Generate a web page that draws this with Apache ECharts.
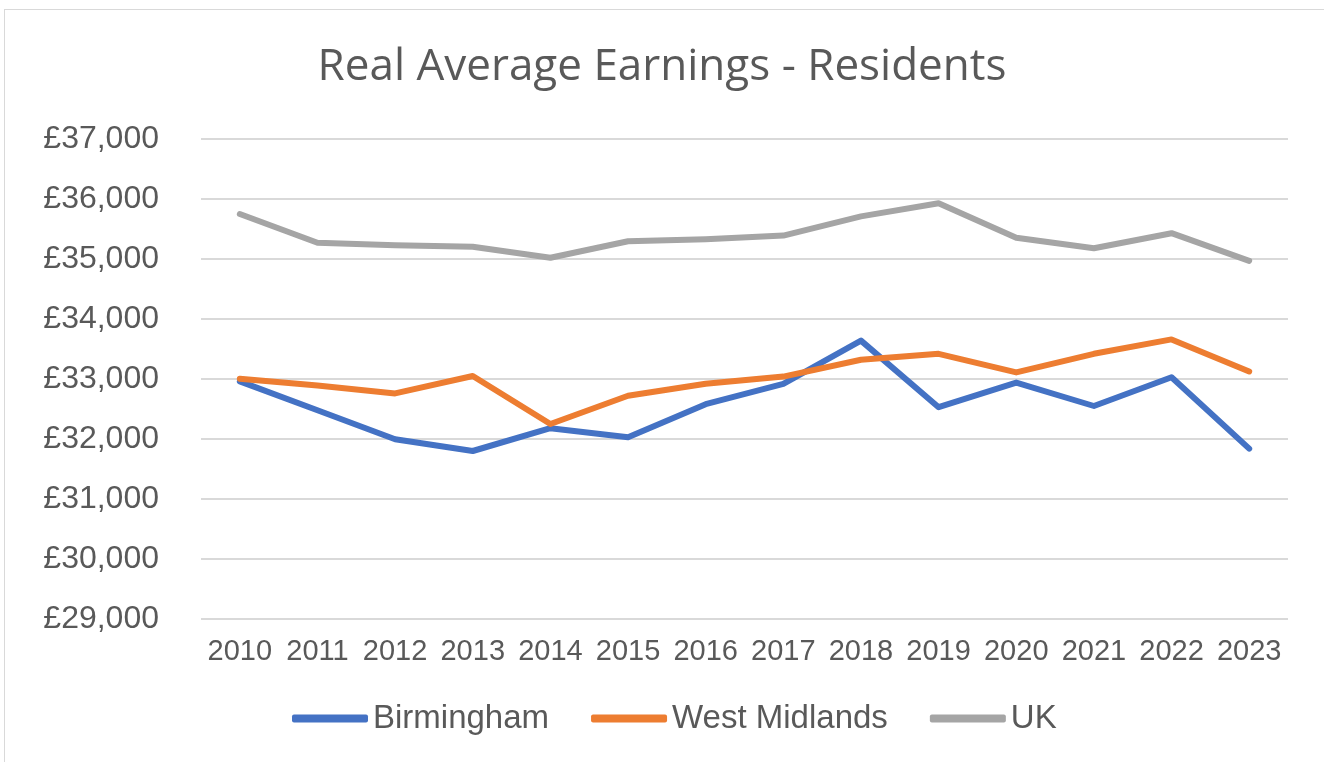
<!DOCTYPE html>
<html>
<head>
<meta charset="utf-8">
<script src="https://cdn.jsdelivr.net/npm/echarts@6/dist/echarts.min.js"></script>
<style>
html,body{margin:0;padding:0;background:#fff;}
#frame{position:absolute;left:4px;top:9px;width:1330px;height:770px;border:1.5px solid #d9d9d9;box-sizing:border-box;}
#chart{position:absolute;left:0;top:0;width:1324px;height:762px;}
</style>
</head>
<body>
<div id="frame"></div>
<div id="chart"></div>
<script>
const years = ['2010','2011','2012','2013','2014','2015','2016','2017','2018','2019','2020','2021','2022','2023'];
const birmingham = [32960, 32480, 31995, 31800, 32180, 32030, 32580, 32920, 33640, 32530, 32940, 32550, 33030, 31840];
const westMidlands = [33005, 32890, 32760, 33050, 32250, 32720, 32920, 33040, 33320, 33420, 33110, 33420, 33660, 33125];
const uk = [35750, 35270, 35230, 35205, 35020, 35295, 35330, 35390, 35710, 35930, 35355, 35180, 35430, 34970];
const yMin = 29000, yMax = 37000, yStep = 1000;

const chart = echarts.init(document.getElementById('chart'), null, {renderer:'canvas'});
const font = '"Liberation Sans", Arial, sans-serif';
chart.setOption({
  animation:false,
  title:{
    text:'Real Average Earnings - Residents',
    left:'center', top:40,
    textStyle:{fontFamily:'"Open Sans", "Liberation Sans", sans-serif', fontSize:44, fontWeight:'normal', color:'#595959'}
  },
  grid:{left:201, right:36, top:139, bottom:143, containLabel:false},
  legend:{
    bottom:22, left:287,
    itemWidth:76, itemHeight:8, itemGap:42,
    icon:'roundRect',
    textStyle:{fontFamily:font, fontSize:33, color:'#595959'},
    data:['Birmingham','West Midlands','UK']
  },
  xAxis:{
    type:'category', data:years, boundaryGap:true,
    axisLine:{show:false}, axisTick:{show:false},
    axisLabel:{fontFamily:font, fontSize:29, color:'#595959', margin:18, interval:0}
  },
  yAxis:{
    type:'value', min:yMin, max:yMax, interval:yStep,
    axisLine:{show:false}, axisTick:{show:false},
    splitLine:{lineStyle:{color:'#d9d9d9', width:2}},
    axisLabel:{fontFamily:font, fontSize:32, color:'#595959', margin:42,
      formatter:v=>'£'+v.toLocaleString('en-GB')}
  },
  series:[
    {name:'Birmingham', type:'line', data:birmingham, showSymbol:false, symbol:'none',
      lineStyle:{color:'#4472C4', width:6, cap:'round', join:'round'}, itemStyle:{color:'#4472C4'}},
    {name:'West Midlands', type:'line', data:westMidlands, showSymbol:false, symbol:'none',
      lineStyle:{color:'#ED7D31', width:6, cap:'round', join:'round'}, itemStyle:{color:'#ED7D31'}},
    {name:'UK', type:'line', data:uk, showSymbol:false, symbol:'none',
      lineStyle:{color:'#A5A5A5', width:6, cap:'round', join:'round'}, itemStyle:{color:'#A5A5A5'}}
  ]
});
</script>
</body>
</html>
